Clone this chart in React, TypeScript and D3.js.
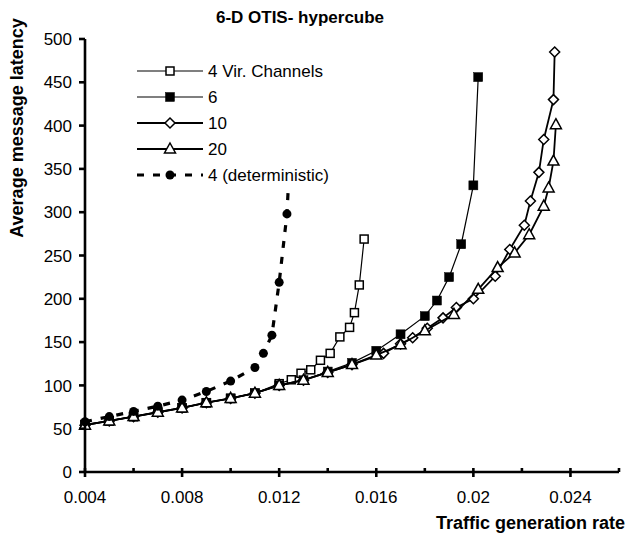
import React from "react";
import * as d3 from "d3";

const title = "6-D OTIS- hypercube";
const xTitle = "Traffic generation rate";
const yTitle = "Average message latency";

const xMajorTicks = [0.004, 0.008, 0.012, 0.016, 0.02, 0.024];
const xMinorTicks = [0.006, 0.01, 0.014, 0.018, 0.022, 0.026];
const xTickLabels = ["0.004", "0.008", "0.012", "0.016", "0.02", "0.024"];
const yTicks = [0, 50, 100, 150, 200, 250, 300, 350, 400, 450, 500];

const seriesNames = ["4 Vir. Channels", "6", "10", "20", "4 (deterministic)"];

const vc4X = [0.004, 0.005, 0.006, 0.007, 0.008, 0.009, 0.010, 0.011, 0.012, 0.0125, 0.0129, 0.0133, 0.0137, 0.0141, 0.0145, 0.0149, 0.0151, 0.0153, 0.0155];
const vc4Y = [55, 59, 64, 69, 74, 80, 85, 91, 102, 106.5, 114, 118, 129, 137, 156, 167, 184, 216, 269];

const vc6X = [0.004, 0.005, 0.006, 0.007, 0.008, 0.009, 0.010, 0.011, 0.012, 0.013, 0.014, 0.015, 0.016, 0.017, 0.018, 0.0185, 0.019, 0.0195, 0.020, 0.0202];
const vc6Y = [54, 59, 64, 69, 74, 80, 85, 91, 100, 106, 116, 126, 140, 159, 180, 198, 225, 263, 331, 456];

const vc10X = [0.004, 0.005, 0.006, 0.007, 0.008, 0.009, 0.010, 0.011, 0.012, 0.013, 0.014, 0.015, 0.0163, 0.017, 0.0175, 0.0181, 0.01875, 0.0193, 0.020, 0.0209, 0.0215, 0.0221, 0.02235, 0.0227, 0.0229, 0.0233, 0.02335];
const vc10Y = [54, 59, 64, 69, 74, 80, 85, 91, 100, 106, 115, 124, 137, 148, 155, 166, 178, 190, 200, 226, 257, 285, 313, 346, 384, 430, 485];

const vc20X = [0.004, 0.005, 0.006, 0.007, 0.008, 0.009, 0.010, 0.011, 0.012, 0.013, 0.014, 0.015, 0.016, 0.017, 0.018, 0.0192, 0.0202, 0.0210, 0.0217, 0.0223, 0.0229, 0.0231, 0.0233, 0.0234];
const vc20Y = [54, 59, 64, 69, 74, 80, 85, 91, 100, 106, 115, 124, 135, 147, 163, 182, 211, 236, 253, 274, 307, 328, 359, 401];

const detX = [0.004, 0.005, 0.006, 0.007, 0.008, 0.009, 0.010, 0.011, 0.01135, 0.0117, 0.0120, 0.01232, 0.01245];
const detY = [58, 64, 70, 76, 83, 93, 105, 120.7, 137, 158, 219, 298, 370];

const FONT = "'Liberation Sans', Arial, sans-serif";

type Pt = [number, number];
const zip = (xs: number[], ys: number[]): Pt[] => xs.map((x, i) => [x, ys[i]]);

function Marker({ kind, x, y }: { kind: string; x: number; y: number }) {
  if (kind === "squareOpen")
    return <rect x={x - 4} y={y - 4} width={8} height={8} fill="#fff" stroke="#000" strokeWidth={1.5} />;
  if (kind === "squareFilled")
    return <rect x={x - 4.5} y={y - 4.5} width={9} height={9} fill="#000" stroke="#000" strokeWidth={0.5} />;
  if (kind === "diamond")
    return <path d={`M${x},${y - 5}L${x + 5},${y}L${x},${y + 5}L${x - 5},${y}Z`} fill="#fff" stroke="#000" strokeWidth={1.5} />;
  if (kind === "triangle")
    return <path d={`M${x},${y - 6}L${x + 5.5},${y + 4}L${x - 5.5},${y + 4}Z`} fill="#fff" stroke="#000" strokeWidth={1.5} />;
  return <circle cx={x} cy={y} r={4.5} fill="#000" />;
}

export default function App() {
  const W = 629, H = 535;
  const x = d3.scaleLinear().domain([0.004, 0.026]).range([85, 619]);
  const y = d3.scaleLinear().domain([0, 500]).range([472, 39]);
  const line = d3.line<Pt>().x((d) => x(d[0])).y((d) => y(d[1]));

  const series = [
    { name: seriesNames[0], data: zip(vc4X, vc4Y), marker: "squareOpen", sw: 1.2, dash: undefined },
    { name: seriesNames[1], data: zip(vc6X, vc6Y), marker: "squareFilled", sw: 1.2, dash: undefined },
    { name: seriesNames[2], data: zip(vc10X, vc10Y), marker: "diamond", sw: 1.8, dash: undefined },
    { name: seriesNames[3], data: zip(vc20X, vc20Y), marker: "triangle", sw: 1.8, dash: undefined },
    { name: seriesNames[4], data: zip(detX, detY), marker: "circle", sw: 3.2, dash: "7 9" },
  ];

  const legX0 = 137, legX1 = 203, legY0 = 71, legDy = 26;

  return (
    <svg width={W} height={H} style={{ position: "absolute", left: 0, top: 0, background: "#fff" }} fontFamily={FONT}>
      <rect width={W} height={H} fill="#fff" />
      <text x={300} y={23} textAnchor="middle" fontWeight="bold" fontSize={17}>{title}</text>

      {/* series */}
      {series.map((s, i) => (
        <g key={i}>
          <path d={line(s.data) || ""} fill="none" stroke="#000" strokeWidth={s.sw} strokeDasharray={s.dash} />
          {s.data.map((d, j) => (
            <Marker key={j} kind={s.marker} x={x(d[0])} y={y(d[1])} />
          ))}
        </g>
      ))}

      {/* axes */}
      <line x1={x(0.004)} x2={x(0.004)} y1={y(500)} y2={y(0)} stroke="#000" strokeWidth={2.6} />
      <line x1={x(0.004)} x2={x(0.026)} y1={y(0)} y2={y(0)} stroke="#000" strokeWidth={2.6} />
      {yTicks.map((t) => (
        <g key={t}>
          <line x1={x(0.004) - 6} x2={x(0.004)} y1={y(t)} y2={y(t)} stroke="#000" strokeWidth={2.6} />
          <text x={72} y={y(t)} dy="0.36em" textAnchor="end" fontSize={17}>{t}</text>
        </g>
      ))}
      {xMajorTicks.map((t, i) => (
        <g key={t}>
          <line x1={x(t)} x2={x(t)} y1={y(0) - 4} y2={y(0) + 5} stroke="#000" strokeWidth={2.6} />
          <text x={x(t)} y={503} textAnchor="middle" fontSize={17}>{xTickLabels[i]}</text>
        </g>
      ))}
      {xMinorTicks.map((t) => (
        <line key={t} x1={x(t)} x2={x(t)} y1={y(0) - 4} y2={y(0)} stroke="#000" strokeWidth={2.6} />
      ))}
      <text x={625} y={529} textAnchor="end" fontWeight="bold" fontSize={18}>{xTitle}</text>
      <text transform={`translate(23,128) rotate(-90)`} textAnchor="middle" fontWeight="bold" fontSize={18}>{yTitle}</text>

      {/* legend */}
      <rect x={132} y={56} width={205} height={132} fill="#fff" />
      {series.map((s, i) => {
        const ly = legY0 + i * legDy;
        return (
          <g key={i}>
            <line x1={legX0} x2={legX1} y1={ly} y2={ly} stroke="#000" strokeWidth={s.sw} strokeDasharray={s.dash} />
            <Marker kind={s.marker} x={(legX0 + legX1) / 2} y={ly} />
            <text x={208} y={ly} dy="0.36em" fontSize={17}>{s.name}</text>
          </g>
        );
      })}
    </svg>
  );
}
